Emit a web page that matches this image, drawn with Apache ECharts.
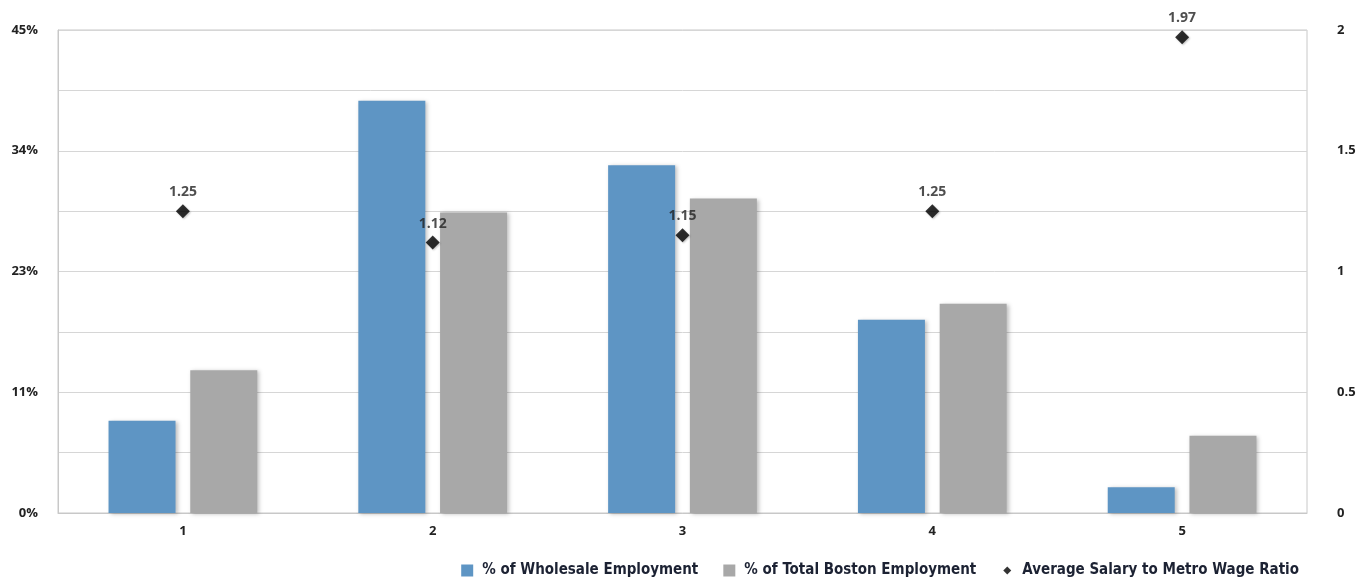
<!DOCTYPE html>
<html>
<head>
<meta charset="utf-8">
<script src="https://cdn.jsdelivr.net/npm/echarts@6/dist/echarts.min.js"></script>
<style>
  html, body { margin: 0; padding: 0; background: #fff; }
  #chart { width: 1364px; height: 581px; }
</style>
</head>
<body>
<div id="chart"></div>
<script>
var categories = ["1", "2", "3", "4", "5"];
var wholesaleShare = [8.6, 38.4, 32.4, 18.0, 2.4];
var bostonShare = [13.3, 28.0, 29.3, 19.5, 7.2];
var wageRatio = [1.25, 1.12, 1.15, 1.25, 1.97];

var labelFont = "'Open Sans', 'DejaVu Sans', sans-serif";
var legendFont = "'DejaVu Sans Condensed', 'DejaVu Sans', sans-serif";

// small diamond drawn inside a larger box so the legend icon stays small
var smallDiamond = "path://M0,0 M6,2 L10,6 L6,10 L2,6 Z M12,12";

var myChart = echarts.init(document.getElementById("chart"));
var option = {
  animation: false,
  grid: {
    left: 58,
    right: 57,
    top: 30,
    bottom: 68,
    show: true,
    borderColor: "#c8c8c8",
    borderWidth: 1
  },
  legend: {
    right: 60,
    bottom: -2,
    itemWidth: 12,
    itemHeight: 12,
    itemGap: 25,
    textStyle: {
      fontFamily: legendFont,
      fontSize: 15,
      fontWeight: "bold",
      color: "#1c2233",
      padding: [0, 0, 0, 4]
    },
    data: [
      { name: "% of Wholesale Employment", icon: "rect" },
      { name: "% of Total Boston Employment", icon: "rect" },
      { name: "Average Salary to Metro Wage Ratio", icon: smallDiamond, itemStyle: { color: "#000" } }
    ]
  },
  xAxis: {
    type: "category",
    data: categories,
    axisLine: { lineStyle: { color: "#c8c8c8" } },
    axisTick: { show: false },
    axisLabel: {
      margin: 12,
      fontFamily: labelFont,
      fontWeight: "bold",
      fontSize: 13,
      color: "#222"
    }
  },
  yAxis: [
    {
      type: "value",
      min: 0,
      max: 45,
      interval: 5.625,
      axisLine: { show: true, lineStyle: { color: "#c8c8c8" } },
      axisTick: { show: false },
      splitLine: { lineStyle: { color: "#d6d6d6" } },
      axisLabel: {
        margin: 20,
        fontFamily: labelFont,
        fontWeight: "bold",
        fontSize: 13,
        color: "#222",
        formatter: function (v) {
          var k = Math.round(v / 5.625);
          return k % 2 === 0 ? Math.round(v) + "%" : "";
        }
      }
    },
    {
      type: "value",
      min: 0,
      max: 2,
      interval: 0.25,
      axisLine: { show: false },
      axisTick: { show: false },
      splitLine: { show: false },
      axisLabel: {
        margin: 30,
        fontFamily: labelFont,
        fontWeight: "bold",
        fontSize: 13,
        color: "#222",
        formatter: function (v) {
          var k = Math.round(v / 0.25);
          return k % 2 === 0 ? String(v) : "";
        }
      }
    }
  ],
  series: [
    {
      name: "% of Wholesale Employment",
      type: "bar",
      data: wholesaleShare,
      barWidth: 67,
      barGap: "22%",
      itemStyle: {
        color: "#5e95c4",
        shadowColor: "rgba(0,0,0,0.25)",
        shadowBlur: 4,
        shadowOffsetX: 2,
        shadowOffsetY: 1
      }
    },
    {
      name: "% of Total Boston Employment",
      type: "bar",
      data: bostonShare,
      barWidth: 67,
      itemStyle: {
        color: "#a8a8a8",
        shadowColor: "rgba(0,0,0,0.25)",
        shadowBlur: 4,
        shadowOffsetX: 2,
        shadowOffsetY: 1
      }
    },
    {
      name: "Average Salary to Metro Wage Ratio",
      type: "scatter",
      yAxisIndex: 1,
      data: wageRatio,
      symbol: "diamond",
      symbolSize: 14,
      itemStyle: {
        color: "#000",
        shadowColor: "rgba(0,0,0,0.3)",
        shadowBlur: 2,
        shadowOffsetX: 1,
        shadowOffsetY: 1
      },
      label: {
        show: true,
        position: "top",
        distance: 5,
        fontFamily: labelFont,
        fontWeight: "bold",
        fontSize: 14,
        color: "#222",
        formatter: function (p) { return p.value.toFixed(2); }
      }
    }
  ]
};
myChart.setOption(option);
</script>
</body>
</html>
